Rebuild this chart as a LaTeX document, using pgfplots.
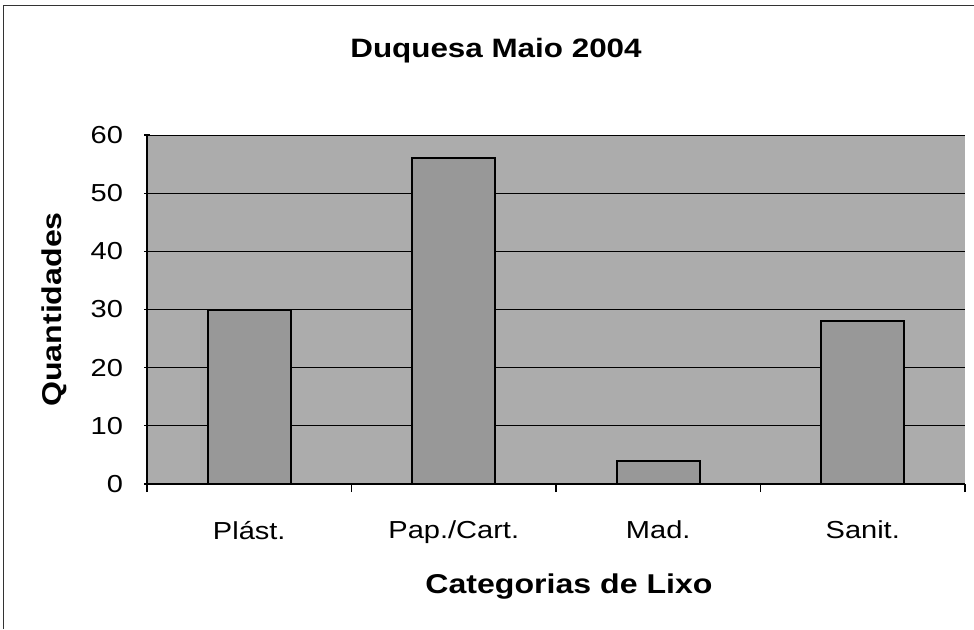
\documentclass[border=0pt]{standalone}
\usepackage{fontspec}
\setmainfont[FakeStretch=1.18]{Liberation Sans}
\usepackage{pgfplots}
\pgfplotsset{compat=1.18}
\definecolor{plotbg}{RGB}{172,172,172}
\definecolor{barfill}{RGB}{152,152,152}
\begin{document}
\begin{tikzpicture}
\path[use as bounding box] (0,0) rectangle (487pt,314.5pt);
\draw[line width=0.5pt, black!80] (1.5pt,0pt) -- (1.5pt,312pt) -- (487pt,312pt);
\node[font=\bfseries\fontsize{13.3}{16}\selectfont] at (248pt,289pt) {Duquesa Maio 2004};
\begin{axis}[
  at={(73.5pt,72.5pt)}, anchor=south west,
  scale only axis, width=409pt, height=174.5pt,
  xmin=-0.5, xmax=3.5, ymin=0, ymax=60,
  ytick={0,10,...,60},
  xtick={0,1,2,3},
  xticklabels={Plást., Pap./Cart., Mad., Sanit.},
  minor xtick={-0.5,0.5,1.5,2.5,3.5},
  x tick style={draw=none},
  minor x tick style={draw=black, line width=0.6pt},
  minor tick length=4pt,
  y tick style={black, line width=0.6pt},
  major tick length=3pt,
  tick align=outside,
  axis lines=left,
  axis line style={black, line width=0.7pt, -},
  axis background/.style={fill=plotbg},
  ymajorgrids, grid style={black, line width=0.5pt},
  ticklabel style={font=\fontsize{12.3}{14}\selectfont},
  xticklabel style={yshift=-12pt},
  yticklabel style={xshift=-7pt},
  /pgf/number format/assume math mode=true,
  xlabel={Categorias de Lixo},
  ylabel={Quantidades},
  label style={font=\bfseries\fontsize{13.6}{15}\selectfont},
  xlabel style={yshift=-8pt, xshift=6.5pt},
  ylabel style={yshift=5pt},
  ybar, bar width=41.5pt,
]
\addplot[fill=barfill, draw=black, line width=1pt] coordinates {(0,30) (1,56) (2,4) (3,28)};
\end{axis}
\end{tikzpicture}
\end{document}
